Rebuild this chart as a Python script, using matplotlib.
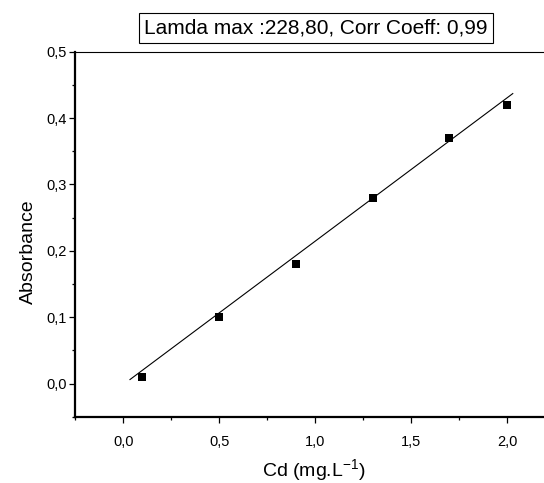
import matplotlib
matplotlib.use("Agg")
import matplotlib.pyplot as plt
import numpy as np
from matplotlib.ticker import MultipleLocator

plt.rcParams['font.family'] = ['Liberation Sans', 'DejaVu Sans']

# Data
cd_conc = [0.1, 0.5, 0.9, 1.3, 1.7, 2.0]
absorbance = [0.01, 0.10, 0.18, 0.28, 0.37, 0.42]

# Fitted line (as drawn)
fit_x = [0.035, 2.03]
fit_slope = 0.216
fit_intercept = -0.0016

x_ticks = [0.0, 0.5, 1.0, 1.5, 2.0]
x_ticklabels = ["0,0", "0,5", "1,0", "1,5", "2,0"]
y_ticks = [0.0, 0.1, 0.2, 0.3, 0.4, 0.5]
y_ticklabels = ["0,0", "0,1", "0,2", "0,3", "0,4", "0,5"]

title_text = "Lamda max :228,80, Corr Coeff: 0,99"
x_label = r"Cd (mg.L$^{\mathregular{-1}}$)"
y_label = "Absorbance"

fig = plt.figure(figsize=(5.44, 4.83), dpi=100)
ax = fig.add_axes([0.1384, 0.1373, 0.8818, 0.7557])

ax.scatter(cd_conc, absorbance, marker='s', s=32, color='black', zorder=3, linewidths=0)
fx = np.array(fit_x)
ax.plot(fx, fit_slope * fx + fit_intercept, color='black', lw=0.8)

ax.set_xlim(-0.25, 2.25)
ax.set_ylim(-0.05, 0.5)

ax.set_xticks(x_ticks)
ax.set_xticklabels(x_ticklabels)
ax.set_yticks(y_ticks)
ax.set_yticklabels(y_ticklabels)
ax.xaxis.set_minor_locator(MultipleLocator(0.25))
ax.yaxis.set_minor_locator(MultipleLocator(0.05))

ax.tick_params(which='major', direction='out', length=4, width=0.9, labelsize=10.5, pad=2)
ax.tick_params(which='minor', direction='out', length=2.5, width=0.9)
ax.tick_params(axis='x', which='major', pad=9)
ax.tick_params(top=False, right=False, which='both')

ax.spines['right'].set_visible(False)
ax.spines['left'].set_linewidth(1.6)
ax.spines['bottom'].set_linewidth(1.6)
ax.spines['top'].set_linewidth(0.8)

ax.set_xlabel(x_label, fontsize=14, va='center')
ax.xaxis.set_label_coords(0.5 - 0.003, -0.148)
ax.set_ylabel(y_label, fontsize=14, va='center')
ax.yaxis.set_label_coords(-0.098, 0.451)

fig.text(316 / 544, 1 - 28 / 483, title_text, fontsize=15, ha='center', va='center',
         bbox=dict(boxstyle='square,pad=0.25', facecolor='white', edgecolor='black', linewidth=0.8))

fig.savefig("out.png", dpi=100)
